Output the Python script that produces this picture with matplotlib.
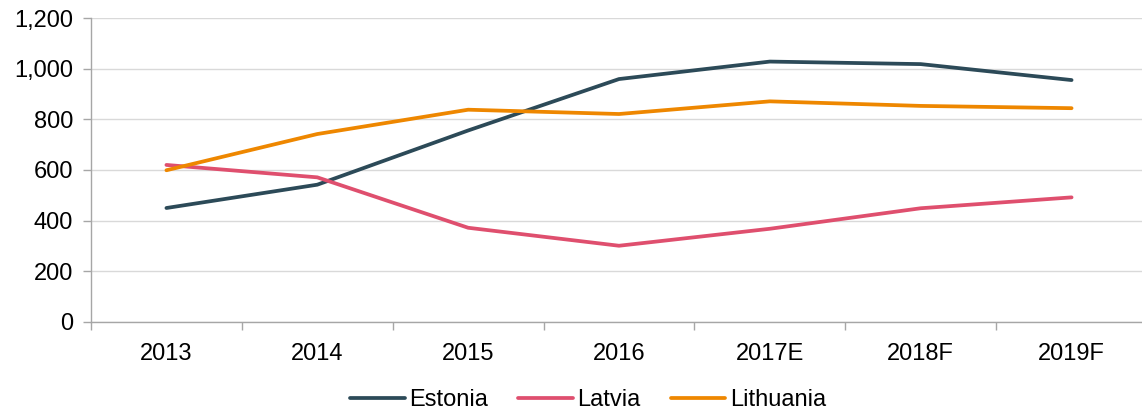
import matplotlib
matplotlib.use("Agg")
import matplotlib.pyplot as plt
from matplotlib.ticker import FuncFormatter, FixedLocator

plt.rcParams["font.family"] = ["Liberation Sans", "DejaVu Sans"]

years = ["2013", "2014", "2015", "2016", "2017E", "2018F", "2019F"]
estonia = [450, 542, 756, 959, 1028, 1018, 955]
latvia = [620, 571, 372, 301, 368, 449, 492]
lithuania = [599, 742, 838, 821, 871, 853, 844]

series = [
    ("Estonia", estonia, "#2C4A58"),
    ("Latvia", latvia, "#DF4F6E"),
    ("Lithuania", lithuania, "#EE8700"),
]

fig = plt.figure(figsize=(11.42, 4.12), dpi=100)
ax = fig.add_axes([91 / 1142, 1 - 322 / 412, 1056 / 1142, 304 / 412])

x = list(range(len(years)))
for name, vals, color in series:
    ax.plot(x, vals, color=color, lw=2.7, label=name, solid_capstyle="round")

ax.set_ylim(0, 1200)
ax.set_xlim(-0.5, len(years) - 0.5)
ax.set_yticks(range(0, 1201, 200))
ax.yaxis.set_major_formatter(FuncFormatter(lambda v, p: f"{int(v):,}"))
ax.grid(axis="y", color="#D9D9D9", lw=1.0)
ax.set_axisbelow(True)

ax.set_xticks(x)
ax.set_xticklabels(years)
ax.xaxis.set_minor_locator(FixedLocator([i - 0.5 for i in range(len(years) + 1)]))
ax.tick_params(axis="x", which="major", length=0, pad=15, labelsize=17)
ax.tick_params(axis="x", which="minor", length=6, width=1, color="#A6A6A6")
ax.tick_params(axis="y", length=6, width=1, color="#A6A6A6", pad=7, labelsize=17)

for side in ("top", "right"):
    ax.spines[side].set_visible(False)
for side in ("left", "bottom"):
    ax.spines[side].set_color("#A6A6A6")
    ax.spines[side].set_linewidth(1)

fig.legend(loc="center", bbox_to_anchor=(0.515, 1 - 400 / 412), ncol=3,
           frameon=False, fontsize=17, handlelength=2.3, handletextpad=0.2,
           columnspacing=1.27)

fig.savefig("out.png", dpi=100)
